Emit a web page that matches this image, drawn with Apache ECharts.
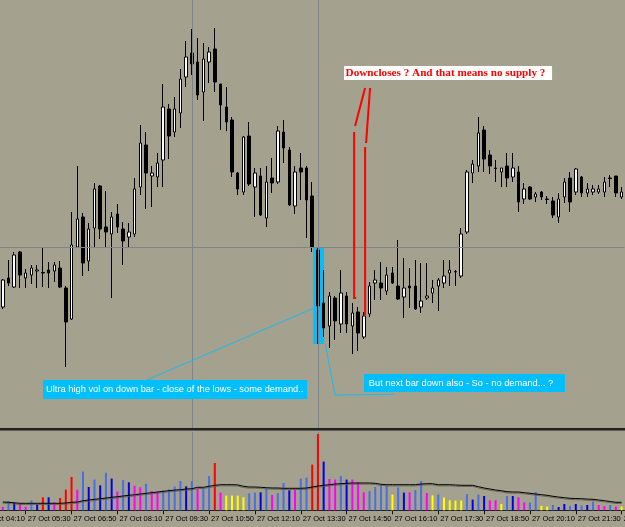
<!DOCTYPE html>
<html><head><meta charset="utf-8">
<script src="https://cdn.jsdelivr.net/npm/echarts@6/dist/echarts.min.js"></script>
<style>html,body{margin:0;padding:0;background:#A4A18E;overflow:hidden;width:625px;height:527px;position:relative}
#c{position:absolute;left:-23px;top:0;width:648px;height:527px}</style>
</head><body><div id="c"></div>
<script>
// ---- time categories (10-minute bars, 27 Oct); the first four are off-screen lead-in slots
const times = ['04:10','04:20','04:30','04:40','04:50',
'05:00','05:10','05:20','05:30','05:40','05:50',
'06:00','06:10','06:20','06:30','06:40','06:50',
'07:00','07:10','07:20','07:30','07:40','07:50',
'08:00','08:10','08:20','08:30','08:40','08:50',
'09:00','09:10','09:20','09:30','09:40','09:50',
'10:00','10:10','10:20','10:30','10:40','10:50',
'11:00','11:10','11:20','11:30','11:40','11:50',
'12:00','12:10','12:20','12:30','12:40','12:50',
'13:00','13:10','13:20','13:30','13:40','13:50',
'14:00','14:10','14:20','14:30','14:40','14:50',
'15:00','15:10','15:20','15:30','15:40','15:50',
'16:00','16:10','16:20','16:30','16:40','16:50',
'17:00','17:10','17:20','17:30','17:40','17:50',
'18:00','18:10','18:20','18:30','18:40','18:50',
'19:00','19:10','19:20','19:30','19:40','19:50',
'20:00','20:10','20:20','20:30','20:40','20:50',
'21:00','21:10','21:20','21:30','21:40','21:50',
'22:00','22:10','22:20','22:30','22:40','22:50'];
const dayLabel = '27 Oct';
const PAD = 4; // bars before the first visible candle (04:50)

// ---- price bars (arbitrary price units)
const opens = [123,152,143,178,152,155,159,157.5,160,159,
162,142,111,183,213,169,202,244,203,196,
216,201,193,196,243,285,254,253,270,321,
298,317,353,377,368,338,368,381,346,323,
310,257,238,294,243,254,212,252,248,298,
280,224,262,262,234,180,127,104,132,106,
134,104,118,93,116,147,147,139,157,144,
133,144,144,123,132,137,144,147,157,158,
154,198,257,264,300,275,262,258,264,253,
258,231,243,233,238,231,229,213,233,252,
238,253,237,238,238,238,252,254,233];
const closes = [150,147,175,155,157,162,160,157,157,165,
143,108,185,211,167,201,241,201,198,213,
203,189,198,241,287,257,257,267,323,294,
321,351,373,366,335,371,378,348,325,308,
258,241,293,246,257,215,248,247,299,282,
225,258,258,230,183,124,102,134,109,137,
106,117,97,114,144,150,142,155,147,131,
142,142,121,129,134,142,150,154,160,158.5,
196,258,266,297,271,264,261.5,262,252,262,
228,241,231,236,233,230.5,215,231,248,228,
261,237,241,241,241,248,251.5,237,238];
const lows = [121,144,142,142,142,146,142,143,142,148,
142,63,110,182,154,159,182,191,183,132,
197,165,182,193,235,221,223,243,243,271,
293,302,343,355,330,309,347,338,300,299,
253,235,235,244,213,214,203,237,246,267,
224,216,230,192,178,86,93,82,90,97,
97,76,79,91,113,130,130,135,146,130,
112,122,120,117,130,127,119,142,144,144,
152,196,247,258,258,256,248,243,243,248,
218,226,230,228,230,226,212,207,227,218,
235,233,233,235,236,233,243,233,231];
const highs = [151,170,178,179,161,165,165,183,168,168,
169,144,218,264,217,207,247,245,239,218,
226,208,207,252,305,298,264,277,346,326,
333,361,389,401,392,387,383,402,346,343,
313,258,294,308,262,262,264,272,304,310,
283,264,277,264,248,182,160,138,134,160,
138,127,123,118,148,160,168,163,163,190,
172,162,170,167,167,150,152,170,170,160,
202,260,270,313,304,280,270,262,277,277,
264,247,244,238,239,234,233,237,252,258,
262,254,247,245,245,253,255,254,243];

// ---- volume histogram, its colour class and its average line
const volumes = [35,93,75,63,35,98,60,130,130,80,
123,207,333,205,387,233,307,250,375,317,
187,302,280,245,230,265,193,187,200,210,
237,293,240,293,213,220,343,473,177,147,
147,147,130,170,177,180,220,153,173,273,
200,203,317,327,457,763,487,313,307,343,
307,307,283,180,193,233,247,247,157,227,
177,180,203,293,173,150,157,127,100,97,
97,163,107,157,143,100,100,63,143,143,
130,80,77,183,43,37,53,33,63,43,
63,47,53,87,53,43,53,37,37];
const volClass = ['m','b','n','m','m','b','n','r','n','m',
'r','r','r','m','b','n','b','n','b','n',
'm','b','n','m','m','b','m','m','b','b',
'b','b','n','b','m','b','b','r','m','y',
'y','y','y','b','b','n','b','m','b','b',
'n','m','b','b','r','r','n','m','m','b',
'n','m','m','m','b','b','b','b','y','b',
'n','m','b','b','m','y','b','y','y','y',
'y','b','n','b','n','m','m','y','b','n',
'm','m','b','b','y','y','b','n','n','b',
'n','b','n','b','m','m','b','m','y'];
const volAvg = [83,80,75,70,70,70,70,70,70,70,
70,73,80,83,96,103,110,116,123,130,
136,143,150,156,163,170,176,183,190,196,
202,206,213,216,230,230,240,250,256,256,
256,254,240,233,233,230,226,223,223,220,
220,220,220,223,233,243,250,256,263,266,
270,273,273,273,273,270,260,256,256,256,
256,256,256,263,266,266,256,256,256,253,
250,250,250,236,223,213,203,196,186,183,
183,176,170,163,156,150,140,133,126,120,
118,116,112,110,103,96,88,80,80];

// ---- reference lines (bar index / price)
const crossBars = [33, 55];
const crossPrice = 182.7;

const volColors = {r:'#FF0000', m:'#FF00FF', y:'#FFFF00', b:'#4A6FE3', n:'#0000F0'};
const cats = times.map(t => dayLabel + ' ' + t);
const pad = n => Array.from({length: PAD}, () => n);

const candleData = pad(['-','-','-','-']).concat(opens.map((o, i) => [o, closes[i], lows[i], highs[i]]));
const volData = pad('-').concat(volumes.map((v, i) => ({value: v, itemStyle: {color: volColors[volClass[i]]}})));
const avgData = pad('-').concat(volAvg);

const labelEvery = (idx) => idx % 8 === 0;
const lblFont = "'Liberation Sans',Arial,sans-serif";
const crossLine = {color:'#7F848B', width:1, type:'solid'};

const chart = echarts.init(document.getElementById('c'), null, {renderer:'canvas'});
chart.setOption({
  animation:false,
  backgroundColor:'#A4A18E',
  grid:[
    {left:0, right:0.5, top:0, height:428, containLabel:false, outerBoundsMode:'none'},
    {left:0, right:0.5, top:432, height:78.3, containLabel:false, outerBoundsMode:'none'}
  ],
  xAxis:[
    {type:'category', gridIndex:0, data:cats, show:false},
    {type:'category', gridIndex:1, data:cats, offset:2,
     axisLine:{show:true, lineStyle:{color:'#222', width:1}},
     axisTick:{show:true, alignWithLabel:true, length:4, interval:labelEvery, lineStyle:{color:'#111'}},
     axisLabel:{interval:labelEvery, align:'left', margin:3, fontSize:7.5, fontFamily:lblFont, color:'#000', padding:[0,0,0,2], hideOverlap:false},
     splitLine:{show:false}}
  ],
  yAxis:[
    {type:'value', gridIndex:0, min:2, max:430, show:false},
    {type:'value', gridIndex:1, min:0, max:783, show:false}
  ],
  series:[
    {type:'line', xAxisIndex:0, yAxisIndex:0, data:[], z:1, silent:true,
     markLine:{silent:true, symbol:'none', label:{show:false}, lineStyle:crossLine,
       data:[{xAxis: cats[PAD+crossBars[0]]}, {xAxis: cats[PAD+crossBars[1]]}, {yAxis: crossPrice}]}},
    {type:'candlestick', xAxisIndex:0, yAxisIndex:0, data:candleData, barWidth:3, z:2, silent:true,
     itemStyle:{color:'#FFFFFF', color0:'#000000', borderColor:'#000000', borderColor0:'#000000', borderWidth:1}},
    {type:'bar', xAxisIndex:1, yAxisIndex:1, data:volData, barWidth:2, z:4, silent:true},
    {type:'line', xAxisIndex:1, yAxisIndex:1, data:avgData, showSymbol:false, z:5, silent:true,
     lineStyle:{color:'#000', width:1, shadowColor:'rgba(90,90,80,0.8)', shadowBlur:0, shadowOffsetY:1.2}}
  ]
});

// ---- annotations, anchored at (bar index, price)
const highlight = {from:[54.2,182.3], to:[56.07,86]};
const notes = [
  {text:'Ultra high vol on down bar - close of the lows - some demand..', box:[[7.03,50],[53.1,31]], inset:3, leader:[[25.13,50],[54.2,121.7]]},
  {text:'But next bar down also - So - no demand... ?', box:[[63.05,56],[98.1,38]], inset:4.7, leader:[[56.25,86.7],[58,35],[68.17,35.7]]}
];
const redNote = {text:'Downcloses ? And that means no supply ?', box:[[59.56,364],[95.86,350]], inset:1.5};
const redStrokes = [
  [[63.23,342],[61.48,304]],
  [[61.31,298],[61.31,132],[61.66,132]],
  [[64.1,342],[63.4,287]],
  [[63.23,283],[63.23,115]]
];

function P(i, v){
  const xa = chart.convertToPixel({xAxisIndex:0}, cats[PAD]);
  const xb = chart.convertToPixel({xAxisIndex:0}, cats[PAD+100]);
  const y = chart.convertToPixel({yAxisIndex:0}, v);
  return [xa + (xb - xa) * i / 100, y];
}
function boxRect(b){
  const a = P(b[0][0], b[0][1]), c = P(b[1][0], b[1][1]);
  return {x:Math.min(a[0],c[0]), y:Math.min(a[1],c[1]), width:Math.abs(c[0]-a[0]), height:Math.abs(c[1]-a[1])};
}
const g = [];
const hr = boxRect([highlight.from, highlight.to]);
g.push({type:'rect', shape:hr, style:{fill:'#00BFFF'}, z:0, silent:true});
// crosshair verticals through the volume panel, kept beneath the histogram
crossBars.forEach(b => {
  const x = Math.round(chart.convertToPixel({xAxisIndex:1}, cats[PAD+b])) + 0.5;
  const yTop = chart.convertToPixel({yAxisIndex:1}, 783);
  const yBot = chart.convertToPixel({yAxisIndex:1}, 0);
  g.push({type:'line', shape:{x1:x, y1:yTop, x2:x, y2:yBot}, style:{stroke:crossLine.color, lineWidth:1}, z:0, silent:true});
});
notes.forEach(n => {
  g.push({type:'polyline', shape:{points:n.leader.map(p => P(p[0], p[1]))}, style:{stroke:'#1FB8F0', lineWidth:1, fill:null}, z:5, silent:true});
  const r = boxRect(n.box);
  g.push({type:'rect', shape:r, style:{fill:'#00BFFF'}, z:6, silent:true});
  g.push({type:'text', x:r.x + n.inset, y:r.y + r.height/2, z:7, silent:true,
    style:{text:n.text, fill:'#FFFFFF', font:"9.3px 'Liberation Sans',Arial,sans-serif", verticalAlign:'middle', align:'left'}});
});
const rr = boxRect(redNote.box);
g.push({type:'rect', shape:rr, style:{fill:'#FFFFFF'}, z:6, silent:true});
g.push({type:'text', x:rr.x + redNote.inset, y:rr.y + rr.height/2 + 0.5, z:7, silent:true,
  style:{text:redNote.text, fill:'#FF0000', font:"bold 11.2px 'Liberation Serif','Times New Roman',serif", verticalAlign:'middle', align:'left'}});
redStrokes.forEach(s => g.push({type:'polyline', shape:{points:s.map(p => P(p[0], p[1]))}, style:{stroke:'#FF0000', lineWidth:2, fill:null}, z:6, silent:true}));
// panel separator
g.push({type:'rect', shape:{x:0, y:428, width:648, height:2}, style:{fill:'#232323'}, z:8, silent:true});
g.push({type:'rect', shape:{x:0, y:430, width:648, height:1}, style:{fill:'#5E5D54'}, z:8, silent:true});
chart.setOption({graphic:{elements:g}});
</script>
</body></html>
